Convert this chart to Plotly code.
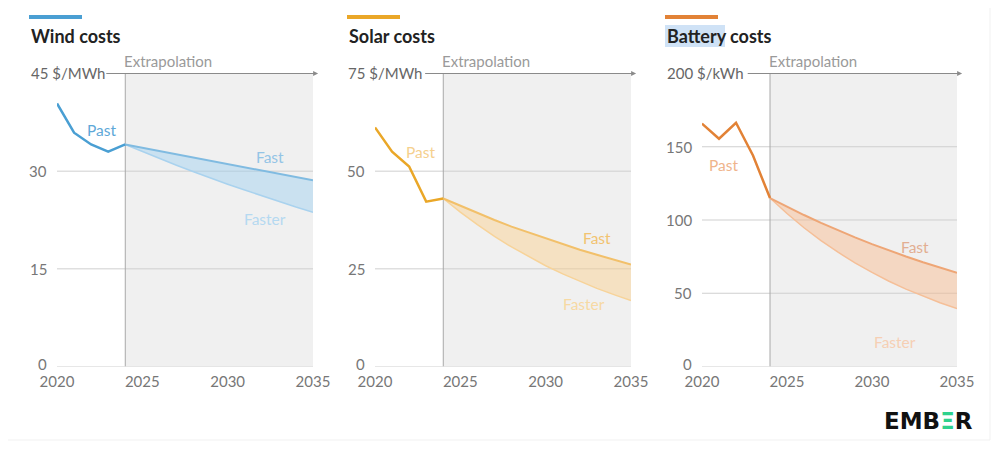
import plotly.graph_objs as go

years_past = [2020, 2021, 2022, 2023, 2024]
years_proj = [2024, 2025, 2026, 2027, 2028, 2029, 2030, 2031, 2032, 2033, 2034, 2035]
x_ticks = [2020, 2025, 2030, 2035]

wind_past = [40.4, 35.9, 34.1, 33.0, 34.1]
wind_fast = [34.1, 33.6, 33.0, 32.5, 32.0, 31.5, 31.0, 30.5, 30.0, 29.5, 29.1, 28.6]
wind_faster = [34.1, 33.0, 31.9, 30.9, 29.9, 28.9, 28.0, 27.1, 26.2, 25.3, 24.5, 23.7]
wind_ticks = [0, 15, 30]

solar_past = [61.2, 55.0, 51.2, 42.2, 43.0]
solar_fast = [43.0, 41.1, 39.3, 37.5, 35.8, 34.3, 32.8, 31.3, 29.9, 28.6, 27.3, 26.1]
solar_faster = [43.0, 39.5, 36.3, 33.3, 30.6, 28.1, 25.8, 23.7, 21.8, 20.0, 18.4, 16.9]
solar_ticks = [0, 25, 50]

battery_past = [165.8, 155.5, 166.4, 144.0, 115.0]
battery_fast = [115.0, 109.0, 103.4, 98.0, 92.9, 88.1, 83.5, 79.2, 75.1, 71.2, 67.5, 64.0]
battery_faster = [115.0, 104.4, 94.7, 85.9, 78.0, 70.7, 64.2, 58.2, 52.8, 47.9, 43.5, 39.5]
battery_ticks = [0, 50, 100, 150]

FONT = "Lato"
GRID = "#cfcfcf"
TICK = "#777777"
W, H, OFF = 1000, 453, 8  # page has an 8px body margin


def px(x):
    return (x - OFF) / W


def py(y):
    return 1 - (y - OFF) / H


panels = [
    dict(title="Wind costs", top=45, unit="$/MWh", ticks=wind_ticks,
         past=wind_past, fast=wind_fast, faster=wind_faster,
         line="#4a9fd3", fast_line="#80bbe1", faster_line="#a9d2ee",
         fill="rgba(150,205,240,0.42)",
         lab_past="#5ea8d8", lab_fast="#94c4e6", lab_faster="#b5d9f1",
         pos_past=(2022.6, 36.3), pos_fast=(2032.5, 32.1), pos_faster=(2032.2, 22.7),
         dom=(57, 313), tx=29, top_end=2022.8, top_shift=-28),
    dict(title="Solar costs", top=75, unit="$/MWh", ticks=solar_ticks,
         past=solar_past, fast=solar_fast, faster=solar_faster,
         line="#eaa728", fast_line="#f2c06a", faster_line="#f7d399",
         fill="rgba(253,205,130,0.42)",
         lab_past="#f5d08e", lab_fast="#f2c370", lab_faster="#f7d9a3",
         pos_past=(2022.65, 55.0), pos_fast=(2033.0, 32.8), pos_faster=(2032.25, 16.1),
         dom=(375, 631), tx=347, top_end=2022.85, top_shift=-29),
    dict(title="Battery costs", top=200, unit="$/kWh", ticks=battery_ticks,
         past=battery_past, fast=battery_fast, faster=battery_faster,
         line="#e28236", fast_line="#eea676", faster_line="#f5bf98",
         fill="rgba(250,180,130,0.42)",
         lab_past="#efb48c", lab_fast="#e2ae92", lab_faster="#f6cfb4",
         pos_past=(2021.25, 137.8), pos_fast=(2032.55, 81.9), pos_faster=(2031.35, 16.4),
         dom=(702, 957), tx=665, top_end=2022.6, top_shift=-37),
]

fig = go.Figure()
shapes = []
annots = []

# highlight behind "Battery" (selection artefact in the original)
shapes.append(dict(type="rect", xref="paper", yref="paper", x0=px(665), x1=px(725),
                   y0=py(47), y1=py(25), fillcolor="#cfe2f6",
                   line=dict(width=0), layer="below"))

for i, p in enumerate(panels):
    n = "" if i == 0 else str(i + 1)
    xa, ya = "x" + n, "y" + n
    top = p["top"]

    fig.add_trace(go.Scatter(x=years_proj, y=p["faster"], mode="lines",
                             line=dict(color=p["faster_line"], width=1.5),
                             xaxis=xa, yaxis=ya, hoverinfo="skip"))
    fig.add_trace(go.Scatter(x=years_proj, y=p["fast"], mode="lines", fill="tonexty",
                             fillcolor=p["fill"], line=dict(color=p["fast_line"], width=2),
                             xaxis=xa, yaxis=ya, hoverinfo="skip"))
    fig.add_trace(go.Scatter(x=years_past, y=p["past"], mode="lines",
                             line=dict(color=p["line"], width=2.5),
                             xaxis=xa, yaxis=ya, hoverinfo="skip"))

    # shaded extrapolation area + divider
    shapes.append(dict(type="rect", xref=xa, yref=ya, x0=2024, x1=2035, y0=0, y1=top,
                       fillcolor="#f0f0f0", line=dict(width=0), layer="below"))
    for t in p["ticks"]:
        shapes.append(dict(type="line", xref=xa, yref=ya, x0=2020, x1=2035, y0=t, y1=t,
                           line=dict(color=GRID, width=1), layer="below"))
    shapes.append(dict(type="line", xref=xa, yref=ya, x0=2024, x1=2024, y0=0, y1=top,
                       line=dict(color="#a8a8a8", width=1), layer="below"))

    # top axis line with arrow
    annots.append(dict(x=2035.3, y=top, xref=xa, yref=ya, ax=p["top_end"], ay=top,
                       axref=xa, ayref=ya, showarrow=True, arrowhead=2, arrowsize=1,
                       arrowwidth=1, arrowcolor="#8a8a8a", text=""))
    annots.append(dict(x=2020, y=top, xref=xa, yref=ya, xanchor="left", yanchor="middle",
                       xshift=p["top_shift"], text="%d %s" % (top, p["unit"]), showarrow=False,
                       font=dict(family=FONT, size=15, color="#666666")))
    for t in p["ticks"]:
        annots.append(dict(x=2020, y=t, xref=xa, yref=ya, xanchor="right", yanchor="middle",
                           xshift=-8, yshift=3 if t == 0 else 0,
                           text=str(t), showarrow=False,
                           font=dict(family=FONT, size=15, color=TICK)))
    annots.append(dict(x=2024, y=top, xref=xa, yref=ya, xanchor="left", yanchor="middle",
                       yshift=12, xshift=-3, text="Extrapolation", showarrow=False,
                       font=dict(family=FONT, size=15, color="#9a9a9a")))

    for key, txt in [("past", "Past"), ("fast", "Fast"), ("faster", "Faster")]:
        lx, ly = p["pos_" + key]
        annots.append(dict(x=lx, y=ly, xref=xa, yref=ya, text=txt, showarrow=False,
                           xanchor="center", yanchor="middle",
                           font=dict(family=FONT, size=15.5, color=p["lab_" + key])))

    # title and coloured bar
    shapes.append(dict(type="line", xref="paper", yref="paper", x0=px(p["tx"]), x1=px(p["tx"] + 53),
                       y0=py(17), y1=py(17), line=dict(color=p["line"], width=4)))
    annots.append(dict(x=px(p["tx"]), y=py(36), xref="paper", yref="paper", xanchor="left",
                       yanchor="middle", text="<b>%s</b>" % p["title"], showarrow=False,
                       font=dict(family=FONT, size=18, color="#222222")))

    axis_x = dict(domain=[px(p["dom"][0]), px(p["dom"][1])], range=[2020, 2035], tickvals=x_ticks,
                  showgrid=False, zeroline=False, showline=False, ticks="", automargin=False,
                  ticklabelstandoff=4,
                  tickfont=dict(family=FONT, size=15, color=TICK), fixedrange=True)
    axis_y = dict(domain=[py(366.5), py(73.5)], range=[0, top], showgrid=False, zeroline=False,
                  showline=False, showticklabels=False, automargin=False, fixedrange=True)
    if i > 0:
        axis_x["anchor"] = ya
        axis_y["anchor"] = xa
    fig.update_layout(**{"xaxis" + n: axis_x, "yaxis" + n: axis_y})

# card frame
shapes.append(dict(type="rect", xref="paper", yref="paper", x0=px(5), x1=px(990),
                   y0=py(440), y1=1.02, line=dict(color="#f1f1f1", width=1), layer="below"))

annots.append(dict(x=px(975), y=py(421), xref="paper", yref="paper", xanchor="right",
                   yanchor="middle",
                   text="<b>EMB<span style='color:#2fd18c'>\u039e</span>R</b>", showarrow=False,
                   font=dict(family="DejaVu Sans", size=23, color="#111111")))

fig.update_layout(template="none", width=W, height=H, margin=dict(l=0, r=0, t=0, b=0, pad=0),
                  paper_bgcolor="white", plot_bgcolor="rgba(0,0,0,0)", showlegend=False,
                  shapes=shapes, annotations=annots, font=dict(family=FONT))

fig.write_html("out.html")
